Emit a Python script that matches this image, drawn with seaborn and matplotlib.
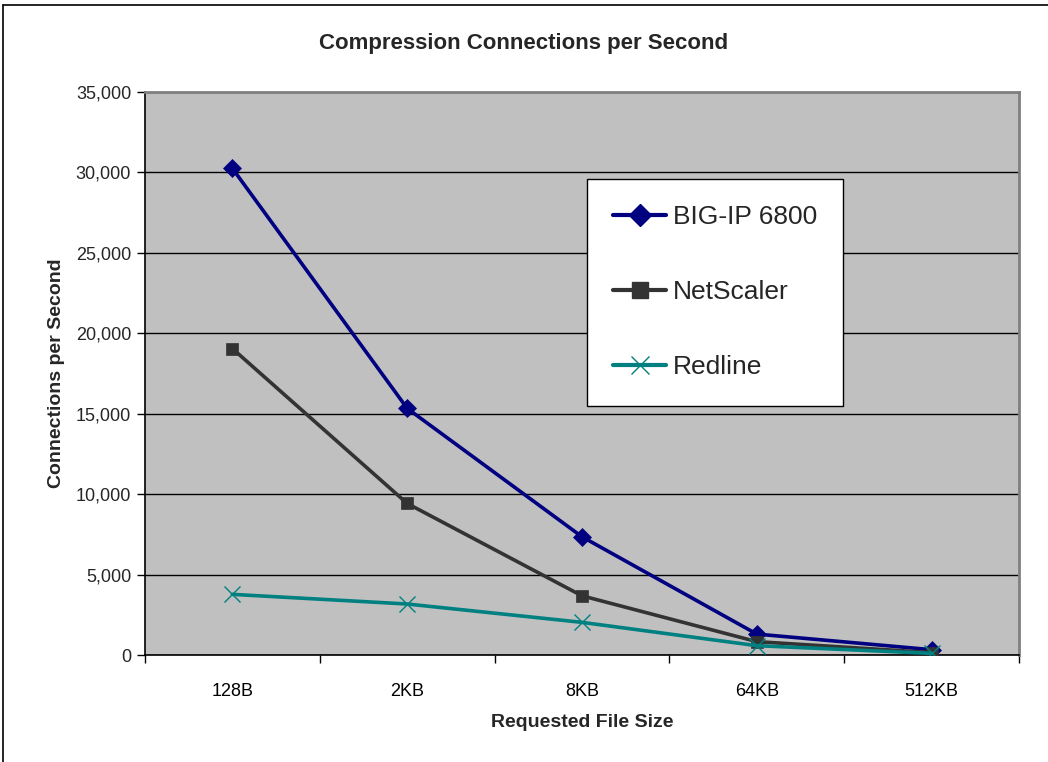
import matplotlib
matplotlib.use("Agg")
import matplotlib.pyplot as plt
import seaborn as sns
import pandas as pd
from matplotlib.ticker import FuncFormatter, FixedLocator
from matplotlib.lines import Line2D

sizes = ["128B", "2KB", "8KB", "64KB", "512KB"]
bigip = [30250, 15330, 7350, 1300, 330]
netscaler = [19050, 9420, 3680, 830, 150]
redline = [3770, 3170, 2030, 580, 100]
series_names = ["BIG-IP 6800", "NetScaler", "Redline"]

sns.set_theme(style="white")
plt.rcParams['font.family'] = ['Liberation Sans', 'DejaVu Sans']

df = pd.DataFrame({
    "size": sizes * 3,
    "pos": list(range(len(sizes))) * 3,
    "value": bigip + netscaler + redline,
    "series": [series_names[0]] * 5 + [series_names[1]] * 5 + [series_names[2]] * 5,
})

colors = {"BIG-IP 6800": "#000080", "NetScaler": "#333333", "Redline": "#008080"}
markers = {"BIG-IP 6800": "D", "NetScaler": "s", "Redline": "x"}
msizes = {"BIG-IP 6800": 9, "NetScaler": 9, "Redline": 11}

fig = plt.figure(figsize=(10.48, 7.62), dpi=100)
ax = fig.add_axes([145/1048, 1 - 655/762, (1019-145)/1048, (655-92)/762])
ax.set_facecolor("#C0C0C0")

for name in series_names:
    sub = df[df["series"] == name]
    sns.lineplot(data=sub, x="pos", y="value", ax=ax, color=colors[name],
                 linewidth=2.6, marker=markers[name], markersize=msizes[name],
                 markeredgecolor=colors[name], markeredgewidth=1.0 if name == "Redline" else 0.5,
                 legend=False, zorder=3)

ax.set_xlim(-0.5, 4.5)
ax.set_ylim(0, 35000)
ax.yaxis.set_major_locator(FixedLocator(range(0, 35001, 5000)))
ax.yaxis.set_major_formatter(FuncFormatter(lambda v, p: f"{int(v):,}"))
ax.set_xticks(range(len(sizes)))
ax.set_xticklabels(sizes)
ax.set_xticks([i - 0.5 for i in range(len(sizes) + 1)], minor=True)
ax.tick_params(axis="x", which="major", length=0, pad=20, labelsize=13, colors="black")
ax.tick_params(axis="x", which="minor", length=6, width=1, direction="out", color="black", bottom=True)
ax.tick_params(axis="y", which="major", length=6, width=1, direction="out", color="black",
               left=True, labelsize=13, pad=4)
ax.grid(axis="y", color="black", linewidth=1.0, zorder=1)
ax.set_axisbelow(True)

for side in ["left", "bottom"]:
    ax.spines[side].set_color("black")
    ax.spines[side].set_linewidth(1.2)
for side in ["top", "right"]:
    ax.spines[side].set_visible(True)
    ax.spines[side].set_color("#808080")
    ax.spines[side].set_linewidth(2)

ax.set_xlabel("Requested File Size", fontsize=14, fontweight="bold", labelpad=10)
ax.set_ylabel("Connections per Second", fontsize=14, fontweight="bold", labelpad=8)
fig.text(524/1048, 1 - 44/762, "Compression Connections per Second", ha="center", va="center",
         fontsize=16, fontweight="bold")

handles = [Line2D([0], [0], color=colors[n], linewidth=3, marker=markers[n],
                  markersize=msizes[n] + 2, markeredgecolor=colors[n]) for n in series_names]
leg = ax.legend(handles, series_names, loc="upper left",
                bbox_to_anchor=((587-145)/874, 1 - (179-92)/563),
                fontsize=19, frameon=True, fancybox=False, edgecolor="black",
                facecolor="white", framealpha=1, handlelength=2.0, labelspacing=1.93,
                borderpad=1.0, handletextpad=0.25, borderaxespad=0)
leg.get_frame().set_linewidth(1.0)

# outer chart border (left and top)
fig.add_artist(Line2D([3/1048, 3/1048], [0, 1 - 5/762], transform=fig.transFigure, color="black", linewidth=1.2))
fig.add_artist(Line2D([3/1048, 1], [1 - 5/762, 1 - 5/762], transform=fig.transFigure, color="black", linewidth=1.2))

fig.savefig("out.png", dpi=100, facecolor="white")
